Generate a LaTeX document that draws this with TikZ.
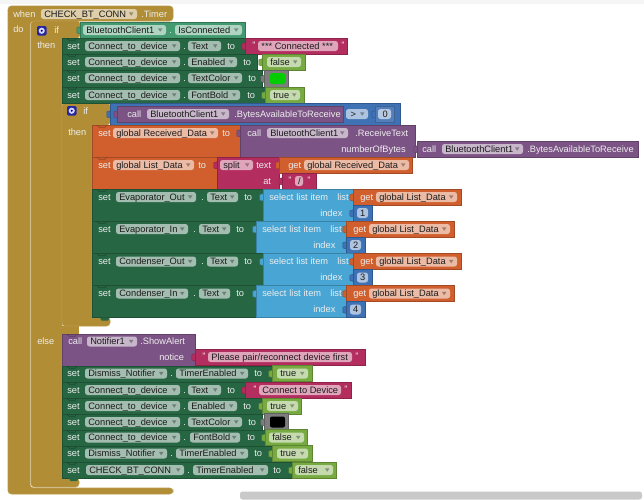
\documentclass[tikz,border=0pt]{standalone}
\usepackage{fontspec}
\setmainfont{Liberation Sans}
\definecolor{cOl}{HTML}{B18E35}
\definecolor{cGr}{HTML}{266643}
\definecolor{cTe}{HTML}{439970}
\definecolor{cPi}{HTML}{B32D5E}
\definecolor{cLo}{HTML}{77AB41}
\definecolor{cCo}{HTML}{7D7D7D}
\definecolor{cMa}{HTML}{3F71B5}
\definecolor{cPu}{HTML}{7C5385}
\definecolor{cOr}{HTML}{D05F2D}
\definecolor{cLi}{HTML}{49A6D4}
\definecolor{cTx}{HTML}{1C1C1C}
\newcounter{nn}
\tikzset{
  lbl/.style={anchor=base west,inner sep=0pt,font=\fontsize{6.95}{8}\selectfont},
  blocklbl/.style={lbl,text=white!93!black},
  fieldlbl/.style={lbl,text=cTx},
  fieldbox/.style={fill=white,fill opacity=.58,rounded corners=1.9pt},
  droptri/.style={fill=black,fill opacity=.33},
  olivebody/.style={fill=cOl,draw=cOl!90!white,line width=.4pt}
}
% block text
\newcommand{\Tx}[3]{\stepcounter{nn}\node[blocklbl] (n\arabic{nn}) at ({#1},{#2+3.3}) {#3};}
% field with dropdown
\newcommand{\Fd}[4]{\fill[fieldbox] ({#1},{#3-5}) rectangle ({#2},{#3+5});
  \fill[droptri] ({#2-8},{#3-1.6}) -- ({#2-3.6},{#3-1.6}) -- ({#2-5.8},{#3+1.8}) -- cycle;
  \stepcounter{nn}\node[fieldlbl] (n\arabic{nn}) at ({#1+3},{#3+3.3}) {#4};}
% field without dropdown
\newcommand{\Fp}[4]{\fill[fieldbox] ({#1},{#3-5}) rectangle ({#2},{#3+5});
  \stepcounter{nn}\node[fieldlbl] (n\arabic{nn}) at ({#1+1},{#3+3.3}) {#4};}
% plain block
\newcommand{\Bk}[5]{\filldraw[fill=#5,draw=#5!78!black,line width=.45pt] (#1,#2) rectangle (#3,#4);}
% stacked row, with the notch of the row above
\newcommand{\Rw}[5]{\Bk{#1}{#2}{#3}{#4}{#5}
  \draw[#5!72!black,line width=.45pt] ({#1+5},#2) -- ({#1+7},{#2+2.2}) -- ({#1+13},{#2+2.2}) -- ({#1+15},#2);}
% connector tab on the left of a value block
\newcommand{\Tb}[3]{\filldraw[fill=#3,draw=#3!78!black,line width=.35pt] ({#1+.6},{#2-3.4}) -- ({#1-3.2},{#2-2.2}) -- ({#1-3.2},{#2+3}) -- ({#1+.6},{#2+4}) -- cycle;}
% bump under the last block of a stack
\newcommand{\Bu}[3]{\fill[#3] (#1,#2) -- ({#1+1.5},{#2+3}) -- ({#1+8},{#2+3}) -- ({#1+9.5},#2) -- cycle;}
% mutator icon
\newcommand{\Gr}[2]{\fill[blue!55!black!85!white,rounded corners=1pt] (#1,#2) rectangle ({#1+9.5},{#2+9.5});
  \fill[white!85!blue] ({#1+4.75},{#2+4.75}) circle (2.3pt);
  \fill[blue!55!black] ({#1+4.75},{#2+4.75}) circle (.9pt);}
% common rows
\newcommand{\Bool}[6]{\Tb{#1}{#3}{cLo}\Bk{#1}{#3-8}{#2}{#3+8}{cLo}\Fd{#4}{#5}{#3}{#6}}
\newcommand{\Swatch}[4]{\Tb{#1}{#3}{cCo}\Bk{#1}{#3-8.5}{#2}{#3+8.5}{cCo}
  \fill[#4,rounded corners=1.5pt] ({#1+6},{#3-5.5}) rectangle ({#2-3},{#3+5.5});}
\newcommand{\Qs}[6]{\Tb{#1}{#3}{cPi}\Bk{#1}{#3-8}{#2}{#3+8}{cPi}\Fp{#4}{#5}{#3}{\hspace{1.6pt}#6}
  \Tx{#4-6}{#3-1}{"}\Tx{#5+3}{#3-1}{"}}
\newcommand{\GetList}[2]{\Tb{#1}{#2}{cOr}\Bk{#1}{#2-8}{#1+108}{#2+8}{cOr}\Tx{#1+7}{#2}{get}\Fd{#1+23}{#1+104}{#2}{global List\_Data}}
\newcommand{\Num}[3]{\Tb{#1}{#2}{cMa}\Bk{#1}{#2-8}{#1+19}{#2+8}{cMa}\Fp{#1+4}{#1+15}{#2}{\hspace{1.4pt}#3}}
\newcommand{\SetListRow}[5]{\Rw{92}{#1}{#2}{#1+32}{cGr}
  \Tx{98}{#1+8}{set}\Fd{116}{#3}{#1+8}{#5}\Tx{#3+5}{#1+8}{.}\Fd{#3+11}{#3+42}{#1+8}{Text}\Tx{#3+48}{#1+8}{to}
  \Tb{#2}{#1+8}{cLi}\Bk{#2}{#1}{#2+90}{#1+32}{cLi}
  \Tx{#2+6}{#1+8}{select\hspace{2.2pt}list\hspace{2.2pt}item}\Tx{#2+74}{#1+8}{list}\Tx{#2+57}{#1+24}{index}
  \GetList{#2+90}{#1+8}\Num{#2+90}{#1+24}{#4}}
\begin{document}
\begin{tikzpicture}[x=.75pt,y=-.75pt]
\useasboundingbox (0,0) rectangle (644,500);
\fill[white] (0,0) rectangle (644,500);
\fill[black!4] (0,0) rectangle (644,3.5);
% scrollbar
\fill[black!21,rounded corners=2pt] (240,491.5) rectangle (642,499.5);
% event block
\path[olivebody,rounded corners=2.5pt] (8,6) -- (173,6) -- (173,21) -- (30,21) -- (30,488) -- (173,488) -- (173,494) -- (8,494) -- cycle;
% outer if
\path[olivebody,rounded corners=2.5pt] (31,21) -- (80,21) -- (80,38) -- (62,38) -- (62,478) -- (79,478) -- (79,487) -- (31,487) -- cycle;
\fill[cOl] (61,326) rectangle (78.5,335);
% inner if
\path[olivebody,rounded corners=2.5pt] (62,103) -- (110,103) -- (110,125) -- (92,125) -- (92,317) -- (110,317) -- (110,326) -- (62,326) -- cycle;
\Tx{13}{14}{when}\Fd{41}{137}{14}{CHECK\_BT\_CONN}\Tx{141}{14}{.Timer}
\Tx{13}{29}{do}\Gr{37}{26}\Tx{54}{30}{if}\Tx{37}{45}{then}
\Tx{37}{341}{else}
% IsConnected
\Tb{80}{30}{cTe}\Bk{80}{22}{245}{38}{cTe}
\Fd{83}{166}{30}{BluetoothClient1}\Tx{169}{30}{.}\Fd{175}{242}{30}{IsConnected}
% first group of set rows
\Rw{62}{38}{245}{54}{cGr}\Tx{67}{46}{set}\Fd{85}{180}{46}{Connect\_to\_device}\Tx{183}{46}{.}\Fd{188}{221}{46}{Text}\Tx{227}{46}{to}
\Qs{245}{347}{46}{258}{338}{*** Connected ***}
\Rw{62}{54}{257}{70}{cGr}\Tx{67}{62}{set}\Fd{85}{180}{62}{Connect\_to\_device}\Tx{183}{62}{.}\Fd{188}{237}{62}{Enabled}\Tx{243}{62}{to}
\Bool{262}{305}{62}{267}{301}{false}
\Rw{62}{70}{262}{87}{cGr}\Tx{67}{78}{set}\Fd{85}{180}{78}{Connect\_to\_device}\Tx{183}{78}{.}\Fd{188}{242}{78}{TextColor}\Tx{248}{78}{to}
\Swatch{264}{288}{78.5}{green!80!black}
\Rw{62}{87}{265}{103}{cGr}\Tx{67}{95}{set}\Fd{85}{180}{95}{Connect\_to\_device}\Tx{183}{95}{.}\Fd{188}{240}{95}{FontBold}\Tx{247}{95}{to}
\Bool{265}{304}{95}{270}{300}{true}
% inner if header
\Gr{67}{106}\Tx{83}{111}{if}\Tx{68}{132}{then}
\Tb{110}{114}{cMa}\Bk{110}{103}{400}{125}{cMa}
\Tb{117}{114}{cPu}\Bk{117}{106}{343}{122}{cPu}
\Tx{127}{114}{call}\Fd{147}{229}{114}{BluetoothClient1}\Tx{234}{114}{.BytesAvailableToReceive}
\Fd{346}{368}{114}{\hspace{1pt}>}
\Tb{375}{114}{cMa}\Bk{375}{106.5}{394}{122}{cMa!90!white}\Fp{378}{391}{114}{\hspace{2.5pt}0}
% received data
\Rw{92}{125}{240}{157}{cOr}\Tx{98}{133}{set}\Fd{113}{218}{133}{global Received\_Data}\Tx{222}{133}{to}
\Tb{240}{133}{cPu}\Bk{240}{125}{415}{157}{cPu}
\Tx{247}{133}{call}\Fd{267}{348}{133}{BluetoothClient1}\Tx{355}{133}{.ReceiveText}
\Tx{341}{149}{numberOfBytes}
\Tb{417}{149}{cPu}\Bk{417}{141}{638}{157}{cPu}
\Tx{422}{149}{call}\Fd{442}{523}{149}{BluetoothClient1}\Tx{527}{149}{.BytesAvailableToReceive}
% list data
\Rw{92}{157}{217}{189}{cOr}\Tx{98}{165}{set}\Fd{113}{194}{165}{global List\_Data}\Tx{198}{165}{to}
\Tb{217}{165}{cPi}\Bk{217}{157}{279}{189}{cPi}
\Fd{220}{253}{165}{split}\Tx{256}{165}{text}\Tx{263}{181}{at}
\Tb{279}{165}{cOr}\Bk{279}{157}{412}{173}{cOr}\Tx{288}{165}{get}\Fd{304}{409}{165}{global Received\_Data}
\Tb{282}{181}{cPi}\Bk{282}{173}{316}{189}{cPi}\Fp{295}{303}{181}{\hspace{1.4pt}/}\Tx{288}{180}{"}\Tx{307}{180}{"}
% list item rows
\SetListRow{189}{263}{196}{1}{Evaporator\_Out}
\SetListRow{221}{256}{188}{2}{Evaporator\_In}
\SetListRow{253.5}{263}{196}{3}{Condenser\_Out}
\SetListRow{285.5}{256}{188}{4}{Condenser\_In}
\Bu{100}{317.5}{cGr}
% else part
\Rw{62}{334}{195}{366}{cPu}
\Tx{68}{341.5}{call}\Fd{87}{137}{341.5}{Notifier1}\Tx{140}{341.5}{.ShowAlert}\Tx{159}{357}{notice}
\Qs{195}{365}{357}{208}{352}{Please pair/reconnect device first}
\Rw{62}{366}{272}{382}{cGr}\Tx{67}{373.5}{set}\Fd{85}{167}{373.5}{Dismiss\_Notifier}\Tx{170}{373.5}{.}\Fd{176}{248}{373.5}{TimerEnabled}\Tx{254}{373.5}{to}
\Bool{272}{312}{373.5}{277}{308}{true}
\Rw{62}{382}{245}{398}{cGr}\Tx{67}{390}{set}\Fd{85}{180}{390}{Connect\_to\_device}\Tx{183}{390}{.}\Fd{188}{221}{390}{Text}\Tx{227}{390}{to}
\Qs{245}{351}{390}{259}{341}{Connect to Device}
\Rw{62}{398}{262}{414}{cGr}\Tx{67}{406}{set}\Fd{85}{180}{406}{Connect\_to\_device}\Tx{183}{406}{.}\Fd{188}{237}{406}{Enabled}\Tx{243}{406}{to}
\Bool{262}{301}{406}{267}{298}{true}
\Rw{62}{414}{262}{430}{cGr}\Tx{67}{422}{set}\Fd{85}{180}{422}{Connect\_to\_device}\Tx{183}{422}{.}\Fd{188}{242}{422}{TextColor}\Tx{248}{422}{to}
\Swatch{264}{288}{422}{black}
\Rw{62}{430}{265}{446}{cGr}\Tx{67}{437.5}{set}\Fd{85}{180}{437.5}{Connect\_to\_device}\Tx{183}{437.5}{.}\Fd{190}{240}{437.5}{FontBold}\Tx{247}{437.5}{to}
\Bool{265}{307}{437.5}{269}{304}{false}
\Rw{62}{446}{272}{462}{cGr}\Tx{67}{453.5}{set}\Fd{85}{167}{453.5}{Dismiss\_Notifier}\Tx{170}{453.5}{.}\Fd{176}{248}{453.5}{TimerEnabled}\Tx{254}{453.5}{to}
\Bool{272}{312}{453.5}{277}{308}{true}
\Rw{62}{462}{292}{478}{cGr}\Tx{67}{470}{set}\Fd{86}{184}{470}{CHECK\_BT\_CONN}\Tx{187}{470}{.}\Fd{193}{268}{470}{TimerEnabled}\Tx{273}{470}{to}
\Bool{292}{336}{470}{295}{333}{false}
\Bu{69}{478}{cGr}
\end{tikzpicture}
\end{document}
